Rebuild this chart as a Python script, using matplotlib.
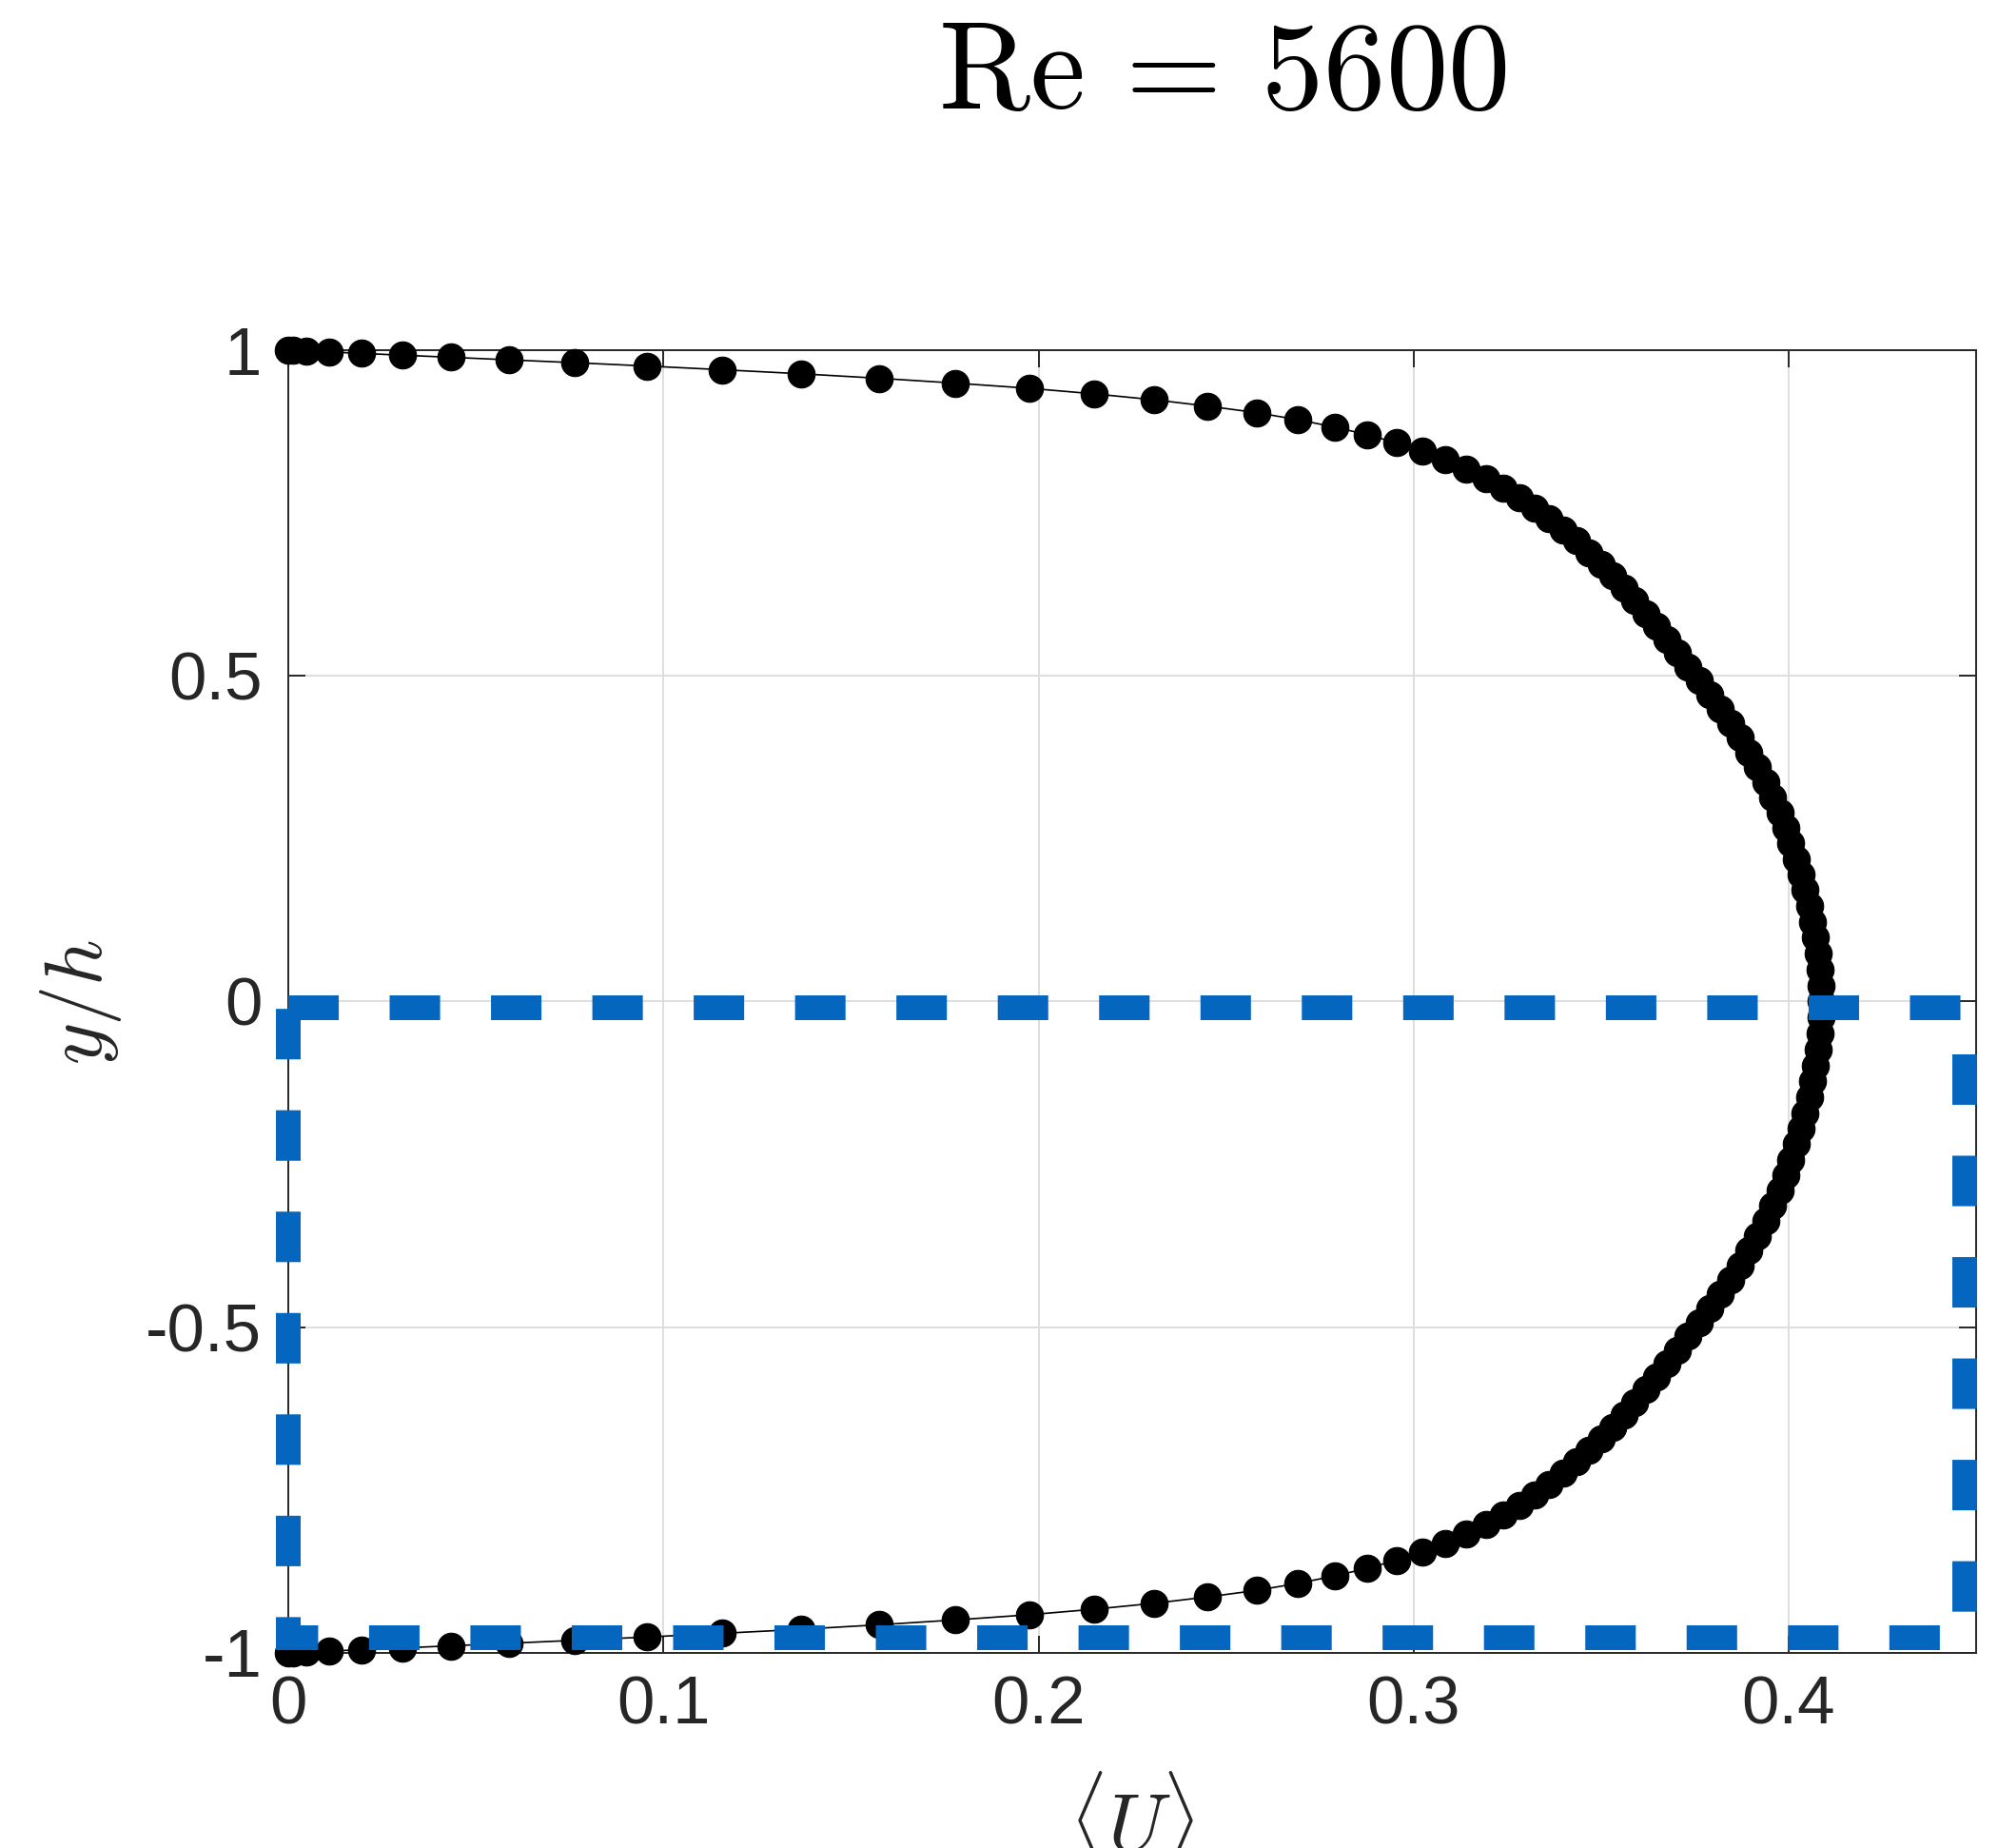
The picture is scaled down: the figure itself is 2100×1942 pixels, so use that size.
import matplotlib
matplotlib.use("Agg")
import matplotlib.pyplot as plt

plt.rcParams['mathtext.fontset'] = 'cm'
plt.rcParams['font.family'] = ['Liberation Sans', 'DejaVu Sans']
plt.rcParams['axes.unicode_minus'] = False
plt.rcParams['lines.scale_dashes'] = False

# mean velocity profile (wall at y/h = +1 down to y/h = -1)
y_pos = [1.0, 0.9997, 0.9988, 0.9973, 0.9952, 0.9925, 0.9892, 0.9853, 0.9808, 0.9757,
         0.9700, 0.9638, 0.9569, 0.9495, 0.9415, 0.9330, 0.9239, 0.9142, 0.9040, 0.8932,
         0.8819, 0.8701, 0.8577, 0.8449, 0.8315, 0.8176, 0.8032, 0.7883, 0.7730, 0.7572,
         0.7410, 0.7242, 0.7071, 0.6895, 0.6716, 0.6532, 0.6344, 0.6152, 0.5957, 0.5758,
         0.5556, 0.5350, 0.5141, 0.4929, 0.4714, 0.4496, 0.4276, 0.4052, 0.3827, 0.3599,
         0.3369, 0.3137, 0.2903, 0.2667, 0.2430, 0.2191, 0.1951, 0.1710, 0.1467, 0.1224,
         0.0980, 0.0736, 0.0491, 0.0245, 0.0,
         -0.0245, -0.0491, -0.0736, -0.0980, -0.1224, -0.1467, -0.1710, -0.1951, -0.2191,
         -0.2430, -0.2667, -0.2903, -0.3137, -0.3369, -0.3599, -0.3827, -0.4052, -0.4276,
         -0.4496, -0.4714, -0.4929, -0.5141, -0.5350, -0.5556, -0.5758, -0.5957, -0.6152,
         -0.6344, -0.6532, -0.6716, -0.6895, -0.7071, -0.7242, -0.7410, -0.7572, -0.7730,
         -0.7883, -0.8032, -0.8176, -0.8315, -0.8449, -0.8577, -0.8701, -0.8819, -0.8932,
         -0.9040, -0.9142, -0.9239, -0.9330, -0.9415, -0.9495, -0.9569, -0.9638, -0.9700,
         -0.9757, -0.9808, -0.9853, -0.9892, -0.9925, -0.9952, -0.9973, -0.9988, -0.9997, -1.0]

u_mean = [0.0, 0.0012, 0.0047, 0.0109, 0.0194, 0.0304, 0.0434, 0.0588, 0.0764, 0.0955,
          0.1157, 0.1367, 0.1575, 0.1777, 0.1975, 0.2148, 0.2308, 0.2450, 0.2583, 0.2692,
          0.2790, 0.2877, 0.2955, 0.3024, 0.3085, 0.3141, 0.3193, 0.3240, 0.3283, 0.3324,
          0.3362, 0.3398, 0.3434, 0.3468, 0.3500, 0.3532, 0.3562, 0.3590, 0.3620, 0.3647,
          0.3675, 0.3704, 0.3732, 0.3761, 0.3790, 0.3818, 0.3845, 0.3870, 0.3894, 0.3917,
          0.3939, 0.3958, 0.3976, 0.3992, 0.4006, 0.4020, 0.4033, 0.4044, 0.4055, 0.4064,
          0.4072, 0.4078, 0.4083, 0.4086, 0.4087,
          0.4086, 0.4083, 0.4078, 0.4072, 0.4064, 0.4055, 0.4044, 0.4033, 0.4020,
          0.4006, 0.3992, 0.3976, 0.3958, 0.3939, 0.3917, 0.3894, 0.3870, 0.3845,
          0.3818, 0.3790, 0.3761, 0.3732, 0.3704, 0.3675, 0.3647, 0.3620, 0.3590,
          0.3562, 0.3532, 0.3500, 0.3468, 0.3434, 0.3398, 0.3362, 0.3324, 0.3283,
          0.3240, 0.3193, 0.3141, 0.3085, 0.3024, 0.2955, 0.2877, 0.2790, 0.2692,
          0.2583, 0.2450, 0.2308, 0.2148, 0.1975, 0.1777, 0.1575, 0.1367, 0.1157,
          0.0955, 0.0764, 0.0588, 0.0434, 0.0304, 0.0194, 0.0109, 0.0047, 0.0012, 0.0]

# highlighted lower half (dashed box)
box_x = [0.0, 0.447, 0.447, 0.0, 0.0]
box_y = [-0.009, -0.009, -0.977, -0.977, -0.009]

x_ticks = [0, 0.1, 0.2, 0.3, 0.4]
x_ticklabels = ['0', '0.1', '0.2', '0.3', '0.4']
y_ticks = [-1, -0.5, 0, 0.5, 1]
y_ticklabels = ['-1', '-0.5', '0', '0.5', '1']

dark = '#262626'

fig = plt.figure(figsize=(21, 19.42), dpi=100)
ax = fig.add_axes([0.1443, 0.1056, 0.8448, 0.7049])

ax.plot(u_mean, y_pos, '-o', color='k', lw=1.2, ms=20.5, mfc='k', mec='k', mew=0.8,
        zorder=3, clip_on=False)

ax.plot(box_x, box_y, color='#0566C0', lw=18.7, dashes=(38.2, 38.5),
        solid_capstyle='butt', dash_capstyle='butt', dash_joinstyle='miter',
        zorder=4, clip_on=False)

ax.set_xlim(0, 0.45)
ax.set_ylim(-1, 1)
ax.set_xticks(x_ticks)
ax.set_xticklabels(x_ticklabels)
ax.set_yticks(y_ticks)
ax.set_yticklabels(y_ticklabels)

ax.grid(True, color='#dedede', lw=1.4)
ax.set_axisbelow(True)
ax.tick_params(direction='in', length=13, width=1.4, top=True, right=True,
               labelsize=51, color=dark, labelcolor=dark)
ax.tick_params(axis='y', pad=20)
ax.tick_params(axis='x', pad=17)
for s in ax.spines.values():
    s.set_linewidth(1.4)
    s.set_color(dark)

# x label is cut by the bottom edge, as in the original
ax.set_xlabel(r'$\langle U\rangle$', fontsize=61, color=dark)
ax.xaxis.set_label_coords(0.5, -0.089)
ax.set_ylabel(r'$y/h$', fontsize=61, color=dark)
ax.yaxis.set_label_coords(-0.0975, 0.5)

fig.text(0.6119, 0.9413, r'$\mathrm{Re}\,=\,5600$', fontsize=94, ha='center', va='baseline')

fig.savefig('out.png', dpi=100)
